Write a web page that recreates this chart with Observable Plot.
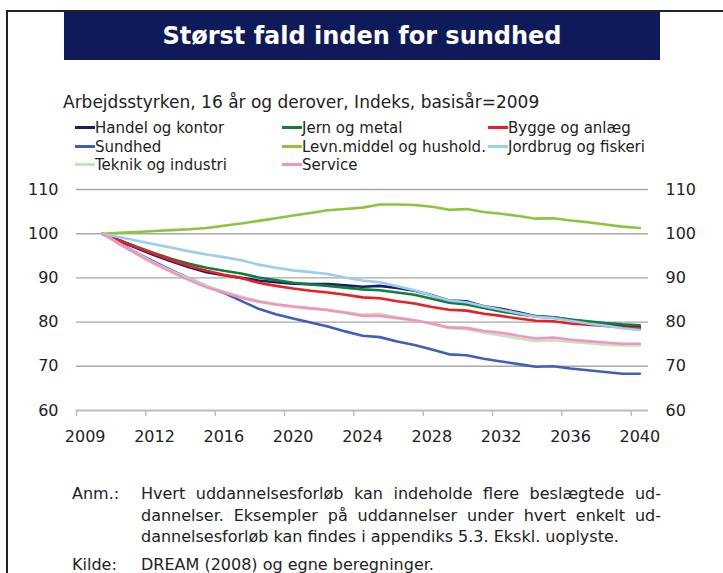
<!DOCTYPE html>
<html>
<head>
<meta charset="utf-8">
<script src="https://cdn.jsdelivr.net/npm/d3@7"></script>
<script src="https://cdn.jsdelivr.net/npm/@observablehq/plot@0.6"></script>
<style>
  html, body { margin: 0; padding: 0; width: 723px; height: 573px; overflow: hidden; background: #fff; }
  body { position: relative; font-family: "DejaVu Sans", sans-serif; color: #222; }
  .frame { position: absolute; left: 6px; top: 10px; width: 760px; height: 620px; border-left: 2px solid #222; border-top: 2px solid #222; }
  .title { position: absolute; left: 64px; top: 12px; width: 596px; height: 48px; background: #0f1a5b; color: #fff;
           font-weight: bold; font-size: 24px; line-height: 48px; text-align: center; }
  .subtitle { position: absolute; left: 63px; top: 92px; font-size: 17px; line-height: 20px; white-space: nowrap; }
  .legend { position: absolute; left: 0; top: 119px; font-size: 15px; }
  .leg { position: absolute; white-space: nowrap; line-height: 18.5px; height: 18.5px; }
  .leg i { display: inline-block; width: 20px; height: 3px; vertical-align: middle; margin-right: 0px; position: relative; top: -1px; }
  #chart { position: absolute; left: 0; top: 175px; }
  .note { position: absolute; left: 72px; font-size: 16px; line-height: 21.5px; }
  .note .lab { position: absolute; left: 0; top: 0; white-space: nowrap; }
  .note .txt { position: absolute; left: 69px; top: 0; width: 520px; }
  .note .txt div { white-space: nowrap; }
  .note .txt div.j { text-align: justify; text-align-last: justify; white-space: normal; }
</style>
</head>
<body>
<div class="frame"></div>
<div class="title">Størst fald inden for sundhed</div>
<div class="subtitle">Arbejdsstyrken, 16 år og derover, Indeks, basisår=2009</div>
<div class="legend" id="legend"></div>
<div id="chart"></div>
<div class="note" style="top:483px">
  <div class="lab">Anm.:</div>
  <div class="txt">
    <div class="j">Hvert uddannelsesforløb kan indeholde flere beslægtede ud-</div>
    <div class="j">dannelser. Eksempler på uddannelser under hvert enkelt ud-</div>
    <div>dannelsesforløb kan findes i appendiks 5.3. Ekskl. uoplyste.</div>
  </div>
</div>
<div class="note" style="top:554px">
  <div class="lab">Kilde:</div>
  <div class="txt"><div>DREAM (2008) og egne beregninger.</div></div>
</div>
<script>
const years = d3.range(2009, 2041);

const seriesNames = ["Handel og kontor", "Jern og metal", "Bygge og anlæg", "Sundhed",
  "Levn.middel og hushold.", "Jordbrug og fiskeri", "Teknik og industri", "Service"];
const seriesColors = ["#1c1c6b", "#0f7f3c", "#ee1c24", "#3f5fb9", "#8cc43c", "#9ecbf0", "#c6e3be", "#f294bd"];

const handel = [100, 98.3, 96.7, 95.1, 93.7, 92.4, 91.3, 90.6, 90.0, 89.4, 89.0, 88.7, 88.6, 88.6, 88.3, 88.0,
  88.2, 87.7, 87.1, 86.1, 84.9, 84.7, 83.6, 83.0, 82.2, 81.3, 81.1, 80.5, 80.0, 79.6, 79.1, 78.8];
const jern = [100, 98.5, 97.0, 95.6, 94.3, 93.2, 92.3, 91.6, 91.0, 90.1, 89.5, 88.9, 88.5, 88.2, 87.8, 87.4,
  87.2, 86.7, 86.2, 85.3, 84.4, 84.0, 83.2, 82.4, 81.8, 81.3, 81.1, 80.6, 80.2, 79.8, 79.5, 79.3];
const bygge = [100, 98.4, 96.9, 95.4, 94.0, 92.7, 91.6, 90.7, 90.0, 88.9, 88.2, 87.6, 87.1, 86.7, 86.2, 85.6,
  85.4, 84.7, 84.2, 83.4, 82.8, 82.6, 81.9, 81.4, 80.8, 80.3, 80.2, 79.7, 79.4, 79.1, 78.8, 78.6];
const sundhed = [100, 97.8, 95.6, 93.6, 91.7, 89.9, 88.2, 86.6, 84.8, 83.0, 81.8, 80.8, 79.9, 79.0, 77.9, 76.9,
  76.6, 75.6, 74.8, 73.8, 72.7, 72.5, 71.7, 71.1, 70.5, 69.9, 70.0, 69.5, 69.1, 68.7, 68.3, 68.3];
const levn = [100, 100.2, 100.4, 100.6, 100.8, 101.0, 101.3, 101.8, 102.3, 102.9, 103.5, 104.1, 104.7, 105.3, 105.6, 105.9,
  106.6, 106.6, 106.5, 106.1, 105.4, 105.6, 104.9, 104.5, 104.0, 103.4, 103.5, 103.0, 102.6, 102.1, 101.6, 101.3];
const jordbrug = [100, 99.2, 98.4, 97.6, 96.8, 96.0, 95.3, 94.7, 94.0, 93.0, 92.3, 91.7, 91.3, 90.9, 90.1, 89.4,
  89.0, 88.1, 87.2, 86.0, 84.9, 84.5, 83.6, 82.8, 82.0, 81.2, 80.9, 80.3, 79.7, 79.2, 78.6, 78.2];
const teknik = [100, 97.7, 95.5, 93.4, 91.5, 89.8, 88.2, 86.9, 85.8, 84.8, 84.1, 83.6, 83.2, 82.8, 82.3, 81.7,
  81.9, 81.1, 80.4, 79.6, 78.6, 78.4, 77.6, 77.0, 76.3, 75.7, 75.9, 75.5, 75.2, 74.9, 74.7, 74.7];
const service = [100, 97.6, 95.3, 93.2, 91.3, 89.5, 87.9, 86.7, 85.5, 84.6, 84.0, 83.5, 83.1, 82.7, 82.1, 81.4,
  81.4, 80.9, 80.4, 79.7, 78.8, 78.7, 78.0, 77.6, 76.9, 76.3, 76.5, 76.0, 75.7, 75.4, 75.1, 75.1];

const seriesValues = [handel, jern, bygge, sundhed, levn, jordbrug, teknik, service];

const yTicks = [60, 70, 80, 90, 100, 110];
const xLabelYears = [2008, 2012, 2016, 2020, 2024, 2028, 2032, 2036, 2040];
const xTickLabels = ["2009", "2012", "2016", "2020", "2024", "2028", "2032", "2036", "2040"];
const xTickMarks = [2007.5, 2011.5, 2015.5, 2019.5, 2023.5, 2027.5, 2031.5, 2035.5, 2039.5];

const labelMap = new Map(xLabelYears.map((y, i) => [y, xTickLabels[i]]));

const rows = [];
seriesNames.forEach((name, s) => {
  years.forEach((yr, i) => rows.push({series: name, year: yr, value: seriesValues[s][i]}));
});

// legend (3 columns, row-wise)
const legCols = [75, 282, 488];
const legend = document.getElementById("legend");
seriesNames.forEach((name, i) => {
  const d = document.createElement("div");
  d.className = "leg";
  d.style.left = legCols[i % 3] + "px";
  d.style.top = (Math.floor(i / 3) * 18.5) + "px";
  d.innerHTML = `<i style="background:${seriesColors[i]}"></i>${name}`;
  legend.appendChild(d);
});

const chart = Plot.plot({
  width: 723,
  height: 280,
  marginLeft: 76,
  marginRight: 75,
  marginTop: 14,
  marginBottom: 45,
  style: {fontFamily: "DejaVu Sans, sans-serif", fontSize: "16px", color: "#222", background: "transparent"},
  x: {domain: [2007.5, 2040.5]},
  y: {domain: [60, 110]},
  color: {domain: seriesNames, range: seriesColors},
  marks: [
    Plot.ruleY(yTicks, {stroke: d => d === 60 ? "#bdbdbd" : "#a8a8a8", strokeWidth: d => d === 60 ? 2 : 1.4}),
    Plot.axisX(xTickMarks, {tickSize: 6, tickFormat: () => "", stroke: "#bdbdbd", strokeWidth: 1.5, label: null}),
    Plot.axisX(xLabelYears, {tickSize: 0, tickPadding: 20, tickFormat: d => labelMap.get(d), label: null}),
    Plot.axisY(yTicks, {anchor: "left", tickSize: 0, tickPadding: 18, label: null}),
    Plot.axisY(yTicks, {anchor: "right", tickSize: 0, tickPadding: 17, label: null}),
    Plot.line(rows, {x: "year", y: "value", z: "series", stroke: "series", strokeWidth: 2.6,
      strokeLinejoin: "round", strokeLinecap: "round"})
  ]
});
document.getElementById("chart").appendChild(chart);
</script>
</body>
</html>
